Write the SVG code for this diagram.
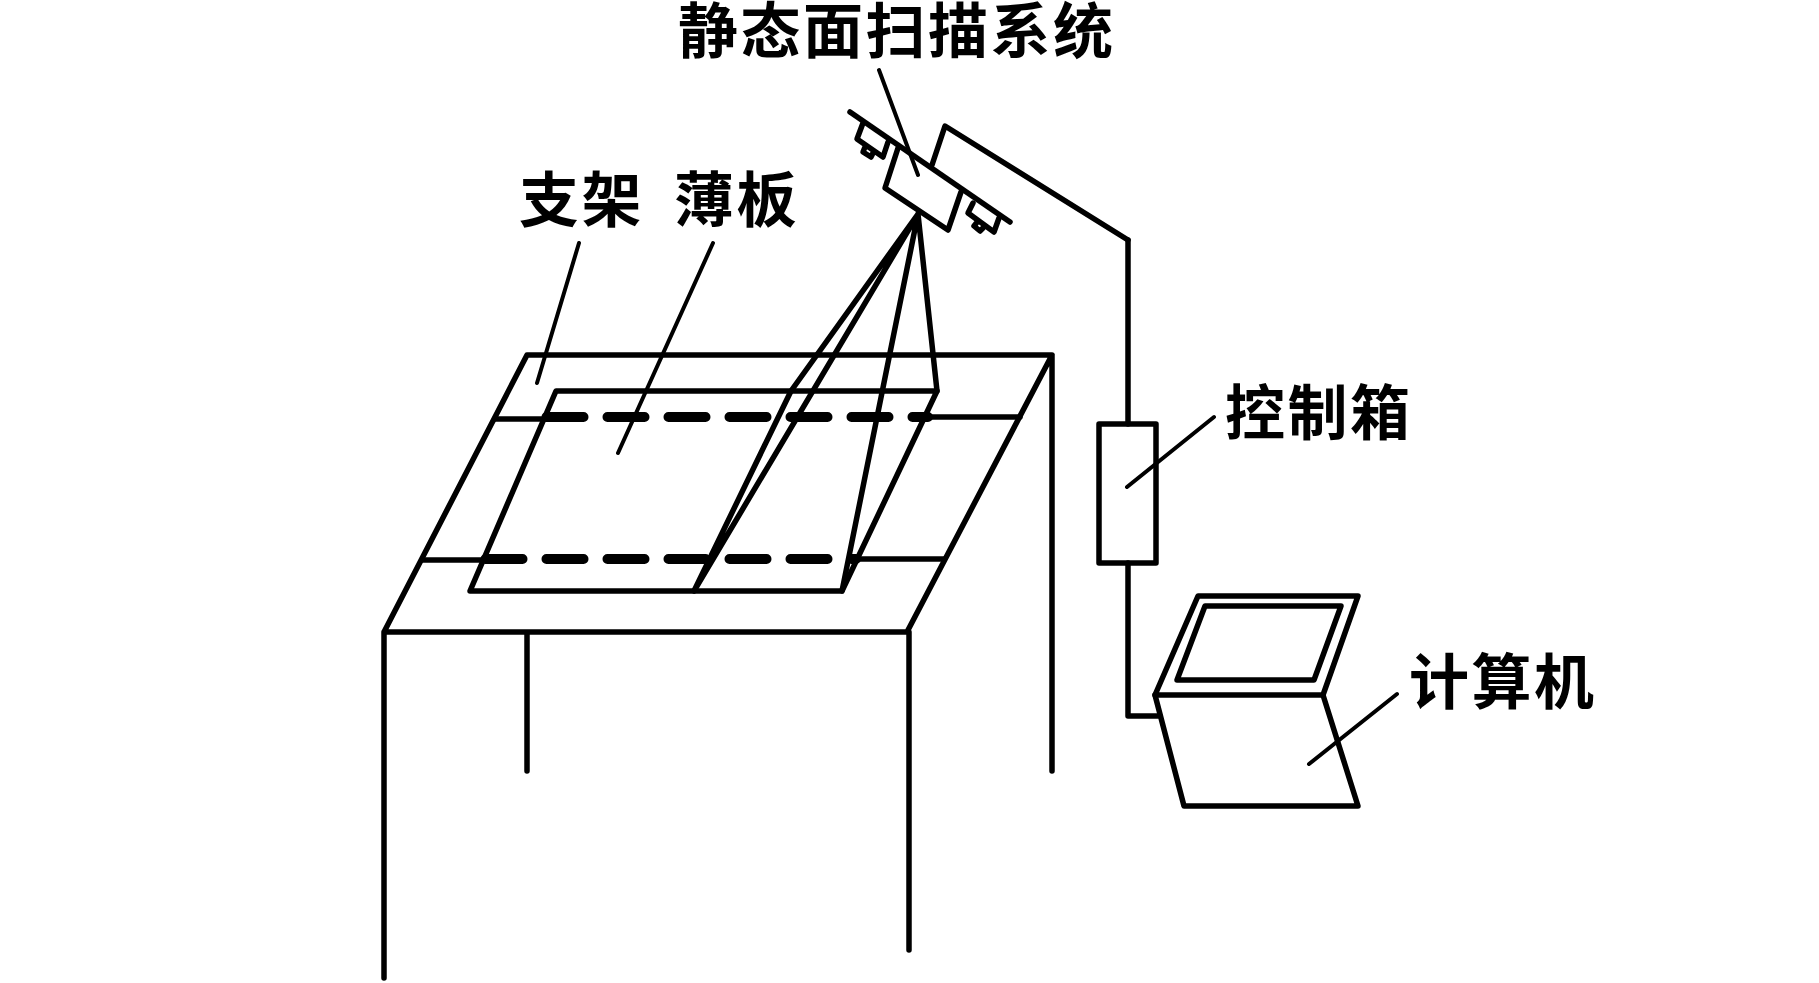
<svg xmlns="http://www.w3.org/2000/svg" width="1819" height="983" viewBox="0 0 1819 983">
<style>
.l{fill:none;stroke:#000;stroke-width:5.500;stroke-linecap:round;stroke-linejoin:round}
.d{stroke-width:10;stroke-dasharray:37 24}
.s{stroke-width:4}
text{font-family:"Noto Sans CJK SC",sans-serif;font-size:60px;font-weight:700;letter-spacing:2.500px;fill:#000}
</style>
<rect width="1819" height="983" fill="#fff"/>
<g id="table">
<path class="l" d="M384 978V632L527 355H1052V771M384 632H907L1052 355M527 632V771M909 632V950"/>
<path class="l" d="M496 419H545M928 417H1020M423 560H488M858 559H944"/>
</g>
<g id="sheet">
<path class="l" d="M556 391H937L842 591H470Z"/>
<path class="l d" d="M546.500 417H928"/>
<path class="l d" d="M485.500 559H856"/>
</g>
<g id="scanner">
<path class="l" d="M850 112L1010 222"/>
<path class="l" d="M898 148L885 188L948 230L961 192"/>
<path class="l" d="M932 165L945 126L1128 240"/>
<path class="l" d="M863 123L857 139L883 157L888 142M865 147L863 152L871 157L873 153"/>
<path class="l" d="M973 203L968 213L994 232L999 218M978 221L974 226L980 231L983 228"/>
</g>
<g id="rays">
<path class="l" d="M918 214L937 391M918 214L842 591M918 214L694 591M918 214L791 391L694 591"/>
</g>
<g id="controlbox">
<rect class="l" x="1099" y="424" width="57" height="139"/>
</g>
<g id="computer">
<path class="l" d="M1155 695L1198 596H1358L1323 695ZM1177 680L1205 606H1341L1314 680Z"/>
<path class="l" d="M1155 695L1184 806H1358L1323 695"/>
</g>
<g id="connectors">
<path class="l" d="M1128 240V424M1128 563V716H1158"/>
<path class="l s" d="M879 70L918 175M579 243L537 383M713 243L618 453M1214 417L1127 487M1397 694L1309 764"/>
</g>
<g id="labels">
<text x="678" y="53">静态面扫描系统</text>
<text x="519" y="222">支架</text>
<text x="674" y="222">薄板</text>
<text x="1225" y="435">控制箱</text>
<text x="1409" y="704">计算机</text>
</g>
</svg>
